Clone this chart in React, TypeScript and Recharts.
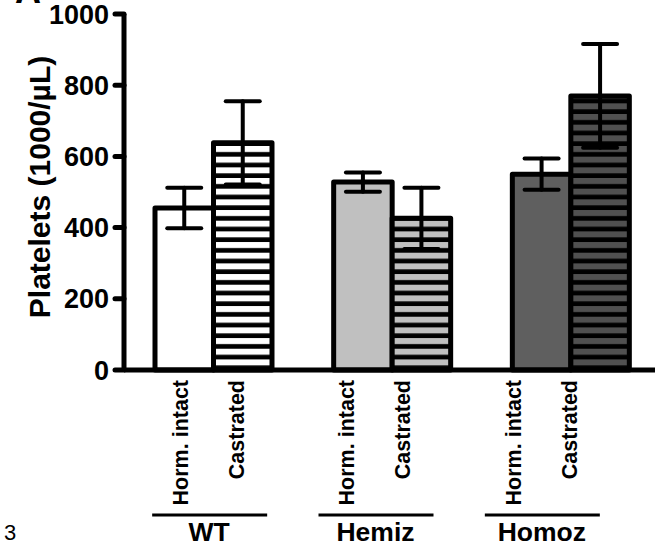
import React from 'react';
import { BarChart, Bar, XAxis, YAxis, ErrorBar, Cell } from 'recharts';

const groups = ['WT', 'Hemiz', 'Homoz'];
const subLabels = ['Horm. intact', 'Castrated'];
const intactMeans = [455, 528, 550];
const intactErrors = [57, 27, 44];
const castratedMeans = [638, 426, 770];
const castratedErrors = [117, 86, 146];
const yTicks = [0, 200, 400, 600, 800, 1000];
const intactFills = ['#ffffff', '#c0c0c0', '#5f5f5f'];
const stripeFills = ['#ffffff', '#c0c0c0', '#505050'];
const yLabel = 'Platelets (1000/µL)';

const FONT = '"Liberation Sans", Arial, Helvetica, sans-serif';

const data = groups.map((g, i) => ({
  group: g,
  intact: intactMeans[i],
  intactErr: intactErrors[i],
  castrated: castratedMeans[i],
  castratedErr: castratedErrors[i],
}));

const GroupTick = (props: any) => {
  const { x, y, payload } = props;
  const labelStyle = { fontFamily: FONT, fontWeight: 700, fontSize: 21.5, fill: '#000' };
  return (
    <g>
      <text
        transform={`translate(${x - 29},${y + 9}) rotate(-90)`}
        textAnchor="end"
        dy="0.36em"
        style={labelStyle}
      >
        {subLabels[0]}
      </text>
      <text
        transform={`translate(${x + 27},${y + 9}) rotate(-90)`}
        textAnchor="end"
        dy="0.36em"
        style={labelStyle}
      >
        {subLabels[1]}
      </text>
      <line x1={x - 57} x2={x + 58} y1={y + 144} y2={y + 144} stroke="#000" strokeWidth={3} />
      <text
        x={x}
        y={y + 170}
        textAnchor="middle"
        style={{ fontFamily: FONT, fontWeight: 700, fontSize: 26.5, fill: '#000' }}
      >
        {payload.value}
      </text>
    </g>
  );
};

const YLabel = (props: any) => {
  const { viewBox } = props;
  const cx = viewBox.x + 39;
  const cy = viewBox.y + viewBox.height / 2 - 5;
  return (
    <text
      transform={`translate(${cx},${cy}) rotate(-90)`}
      textAnchor="middle"
      dy="0.36em"
      style={{ fontFamily: FONT, fontWeight: 700, fontSize: 30, fill: '#000' }}
    >
      {yLabel}
    </text>
  );
};

export default function App() {
  return (
    <div style={{ position: 'absolute', left: 0, top: 0, width: 655, height: 550, overflow: 'hidden', background: '#fff' }}>
      <svg width={0} height={0} style={{ position: 'absolute' }}>
        <defs>
          {stripeFills.map((c, i) => (
            <pattern key={i} id={`stripe${i}`} patternUnits="userSpaceOnUse" width={10} height={10.67} y={7.3}>
              <rect x={0} y={0} width={10} height={10.67} fill={c} />
              <rect x={0} y={6} width={10} height={4.67} fill="#000" />
            </pattern>
          ))}
        </defs>
      </svg>
      <BarChart
        width={660}
        height={550}
        data={data}
        margin={{ top: 14, right: 0, bottom: 0, left: 0 }}
        barGap={0}
        barSize={58.5}
      >
        <XAxis
          dataKey="group"
          height={1}
          tick={false}
          tickLine={false}
          axisLine={{ stroke: '#000', strokeWidth: 5 }}
        />
        <XAxis
          xAxisId="g"
          dataKey="group"
          height={179}
          axisLine={false}
          tickLine={false}
          tickSize={0}
          tickMargin={0}
          interval={0}
          padding={{ left: 2, right: 35 }}
          tick={<GroupTick />}
        />
        <YAxis
          width={124}
          domain={[0, 1000]}
          ticks={yTicks}
          interval={0}
          tickSize={9}
          tickMargin={6}
          axisLine={{ stroke: '#000', strokeWidth: 5 }}
          tickLine={{ stroke: '#000', strokeWidth: 5, strokeLinecap: 'round' }}
          tick={{ fontFamily: FONT, fontWeight: 700, fontSize: 27, fill: '#000' }}
          label={<YLabel />}
        />
        <Bar dataKey="intact" stroke="#000" strokeWidth={5} strokeLinejoin="round" isAnimationActive={false}>
          {data.map((d, i) => (
            <Cell key={d.group} fill={intactFills[i]} />
          ))}
          <ErrorBar dataKey="intactErr" width={17} stroke="#000" strokeWidth={4} strokeLinecap="round" />
        </Bar>
        <Bar dataKey="castrated" stroke="#000" strokeWidth={5} strokeLinejoin="round" isAnimationActive={false}>
          {data.map((d, i) => (
            <Cell key={d.group} fill={`url(#stripe${i})`} />
          ))}
          <ErrorBar dataKey="castratedErr" width={17} stroke="#000" strokeWidth={4} strokeLinecap="round" />
        </Bar>
      </BarChart>
      <svg width={655} height={550} style={{ position: 'absolute', left: 0, top: 0, pointerEvents: 'none' }}>
        <text x={15} y={3} style={{ fontFamily: FONT, fontWeight: 700, fontSize: 36, fill: '#000' }}>A</text>
        <text x={4} y={540} style={{ fontFamily: FONT, fontSize: 22, fill: '#000' }}>3</text>
      </svg>
    </div>
  );
}
